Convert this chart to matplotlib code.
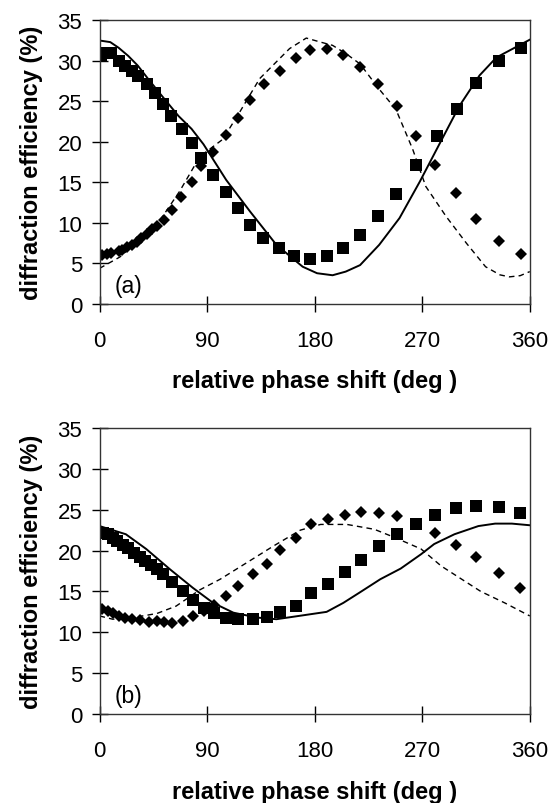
import numpy as np
import matplotlib.pyplot as plt

plt.rcParams['font.family'] = ['Liberation Sans', 'DejaVu Sans']

# panel (a) data
a_sq_x = [1.5, 4, 10, 16, 21, 27, 32, 40, 46, 53, 60, 69, 77, 85, 95, 106, 116, 126, 137, 150, 163, 176,
          190, 204, 218, 233, 248, 265, 282, 299, 315, 334, 353]
a_sq_y = [30.6, 31.0, 31.0, 30.0, 29.4, 28.8, 28.1, 27.1, 26.0, 24.7, 23.2, 21.6, 19.8, 18.0, 15.9, 13.8,
          11.8, 9.8, 8.2, 6.9, 5.9, 5.6, 5.9, 6.9, 8.5, 10.8, 13.6, 17.1, 20.7, 24.1, 27.3, 30.0, 31.6]
a_dia_x = [2, 6, 10, 16, 19, 23, 27, 31, 35, 40, 44, 48, 54, 61, 68, 77, 85, 95, 106, 116, 126, 138, 151,
           164, 176, 190, 204, 218, 233, 249, 265, 281, 298, 315, 334, 353]
a_dia_y = [6.0, 6.2, 6.3, 6.5, 6.7, 7.0, 7.3, 7.6, 8.1, 8.6, 9.2, 9.6, 10.4, 11.6, 13.2, 15.0, 17.0, 18.7,
           20.8, 23.0, 25.2, 27.1, 28.8, 30.3, 31.3, 31.5, 30.7, 29.2, 27.1, 24.4, 20.7, 17.2, 13.7, 10.5,
           7.8, 6.2]
a_sol_x = [0, 9, 16, 24, 32, 41, 52, 66, 77, 87, 106, 126, 148, 170, 182, 195, 206, 218, 234, 251, 268,
           285, 301, 318, 332, 346, 360]
a_sol_y = [32.5, 32.3, 31.6, 30.6, 29.4, 27.7, 25.7, 23.2, 21.6, 19.7, 15.3, 11.4, 7.3, 4.6, 3.8, 3.55,
           4.0, 4.8, 7.3, 10.6, 15.1, 19.9, 24.4, 28.2, 30.4, 31.5, 32.6]
a_dash_x = [0, 17, 36, 50, 67, 84, 103, 117, 134, 159, 173, 185, 195, 207, 218, 234, 248, 262, 273, 290,
            307, 323, 335, 343, 352, 360]
a_dash_y = [4.4, 5.8, 8.3, 10.2, 13.9, 18.2, 20.3, 23.6, 27.8, 31.5, 32.8, 32.3, 31.9, 30.8, 29.6, 26.5,
            24.0, 19.1, 14.5, 10.8, 7.5, 4.6, 3.6, 3.35, 3.5, 4.0]

# panel (b) data
b_sq_x = [3, 7, 11, 15, 20, 24, 29, 34, 38, 43, 48, 53, 61, 70, 78, 87, 96, 106, 116, 128, 140, 151, 164,
          177, 191, 205, 219, 234, 249, 265, 281, 298, 315, 334, 352]
b_sq_y = [22.2, 22.0, 21.6, 21.2, 20.7, 20.3, 19.7, 19.2, 18.7, 18.2, 17.7, 17.1, 16.1, 15.0, 14.0, 13.0,
          12.3, 11.8, 11.6, 11.6, 11.9, 12.5, 13.2, 14.8, 15.9, 17.4, 18.9, 20.5, 22.0, 23.2, 24.3, 25.2,
          25.5, 25.3, 24.6]
b_dia_x = [2, 7, 11, 16, 21, 27, 34, 41, 48, 54, 61, 70, 78, 87, 96, 106, 116, 128, 140, 151, 164, 177,
           191, 205, 219, 234, 249, 265, 281, 298, 315, 334, 352]
b_dia_y = [12.9, 12.6, 12.3, 12.0, 11.8, 11.6, 11.5, 11.2, 11.35, 11.2, 11.15, 11.35, 12.0, 12.6, 13.4,
           14.4, 15.7, 17.1, 18.4, 20.1, 21.6, 23.2, 23.9, 24.3, 24.7, 24.55, 24.2, 23.3, 22.1, 20.7, 19.2,
           17.3, 15.45]
b_sol_x = [0, 22, 39, 59, 78, 95, 112, 132, 148, 162, 176, 190, 204, 218, 235, 252, 269, 280, 297, 317,
           331, 345, 360]
b_sol_y = [23.0, 22.0, 20.2, 17.7, 15.45, 13.6, 12.4, 11.8, 11.6, 11.9, 12.2, 12.5, 13.6, 14.9, 16.5,
           17.8, 19.55, 20.8, 22.0, 23.0, 23.3, 23.3, 23.1]
b_dash_x = [0, 11, 28, 48, 64, 84, 101, 123, 146, 168, 185, 207, 230, 247, 269, 286, 303, 319, 339, 360]
b_dash_y = [12.0, 11.6, 11.8, 12.3, 13.2, 15.2, 16.5, 18.5, 20.6, 22.5, 23.2, 23.2, 22.6, 21.6, 20.2,
            18.1, 16.5, 15.0, 13.6, 12.0]

xticks = [0, 90, 180, 270, 360]
yticks = [0, 5, 10, 15, 20, 25, 30, 35]

fig = plt.figure(figsize=(5.53, 8.04), dpi=100)
ax_a = fig.add_axes([0.180, 0.6206, 0.778, 0.353])
ax_b = fig.add_axes([0.180, 0.1107, 0.778, 0.3557])

panels = [
    (ax_a, '(a)', a_sq_x, a_sq_y, a_dia_x, a_dia_y, a_sol_x, a_sol_y, a_dash_x, a_dash_y),
    (ax_b, '(b)', b_sq_x, b_sq_y, b_dia_x, b_dia_y, b_sol_x, b_sol_y, b_dash_x, b_dash_y),
]

for ax, tag, sqx, sqy, dx, dy, slx, sly, dsx, dsy in panels:
    ax.plot(dsx, dsy, color='k', lw=1.0, dashes=(4, 3))
    ax.plot(slx, sly, color='k', lw=1.4)
    ax.plot(dx, dy, 'D', color='k', ms=6.2, mew=0)
    ax.plot(sqx, sqy, 's', color='k', ms=8.5, mew=0)
    ax.set_xlim(0, 360)
    ax.set_ylim(0, 35)
    ax.set_xticks(xticks)
    ax.set_yticks(yticks)
    ax.tick_params(direction='inout', length=11, width=1, labelsize=16, colors='k')
    ax.tick_params(axis='x', pad=13)
    ax.tick_params(axis='y', pad=7)
    for s in ax.spines.values():
        s.set_linewidth(1.0)
        s.set_color('#333333')
    ax.set_xlabel('relative phase shift (deg )', fontsize=17, fontweight='bold')
    ax.set_ylabel('diffraction efficiency (%)', fontsize=17, fontweight='bold')
    ax.xaxis.set_label_coords(0.5, -0.27)
    ax.xaxis.label.set_va('center')
    ax.yaxis.set_label_coords(-0.158, 0.5)
    ax.yaxis.label.set_va('center')
    ax.text(12.5, 2.3, tag, fontsize=16.5, ha='left', va='center')

fig.savefig('out.png', dpi=100)
